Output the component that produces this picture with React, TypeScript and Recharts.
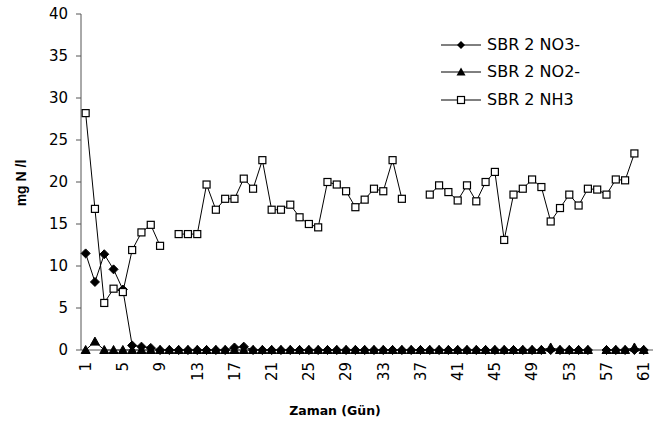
import React from 'react';
import { LineChart, Line, XAxis, YAxis, Label } from 'recharts';

const days = [
  1, 2, 3, 4, 5, 6, 7, 8, 9, 10, 11, 12, 13, 14, 15, 16, 17, 18, 19, 20,
  21, 22, 23, 24, 25, 26, 27, 28, 29, 30, 31, 32, 33, 34, 35, 36, 37, 38, 39, 40,
  41, 42, 43, 44, 45, 46, 47, 48, 49, 50, 51, 52, 53, 54, 55, 56, 57, 58, 59, 60, 61,
];

const no3: (number | null)[] = [
  11.5, 8.1, 11.4, 9.6, 7.2, 0.55, 0.4, 0.25, 0, 0,
  0, 0, 0, 0, 0, 0, 0.3, 0.4, 0, 0,
  0, 0, 0, 0, 0, 0, 0, 0, 0, 0,
  0, 0, 0, 0, 0, 0, 0, 0, 0, 0,
  0, 0, 0, 0, 0, 0, 0, 0, 0, 0,
  0, 0, 0, 0, 0, null, 0, 0, 0, 0, 0,
];

const no2: (number | null)[] = [
  0, 1.0, 0, 0, 0, 0, 0, 0, 0, 0,
  0, 0, 0, 0, 0, 0, 0, 0, 0, 0,
  0, 0, 0, 0, 0, 0, 0, 0, 0, 0,
  0, 0, 0, 0, 0, 0, 0, 0, 0, 0,
  0, 0, 0, 0, 0, 0, 0, 0, 0, 0,
  0.3, 0, 0, 0, 0, null, 0, 0, 0, 0.3, 0,
];

const nh3: (number | null)[] = [
  28.2, 16.8, 5.6, 7.3, 6.9, 11.9, 14.0, 14.9, 12.4, null,
  13.8, 13.8, 13.8, 19.7, 16.7, 18.0, 18.0, 20.4, 19.2, 22.6,
  16.7, 16.7, 17.3, 15.8, 15.0, 14.6, 20.0, 19.7, 18.9, 17.0,
  17.9, 19.2, 18.9, 22.6, 18.0, null, null, 18.5, 19.6, 18.8,
  17.8, 19.6, 17.7, 20.0, 21.2, 13.1, 18.5, 19.2, 20.3, 19.4,
  15.3, 16.9, 18.5, 17.2, 19.2, 19.1, 18.5, 20.3, 20.2, 23.4, null,
];

const xTicks = [1, 5, 9, 13, 17, 21, 25, 29, 33, 37, 41, 45, 49, 53, 57, 61];
const yTicks = [0, 5, 10, 15, 20, 25, 30, 35, 40];

const seriesNames = ['SBR 2 NO3-', 'SBR 2 NO2-', 'SBR 2 NH3'];
const xTitle = 'Zaman (Gün)';
const yTitle = 'mg N /l';

const data = days.map((d, i) => ({ day: d, no3: no3[i], no2: no2[i], nh3: nh3[i] }));

const TICK_FONT = '"DejaVu Sans", sans-serif';

const Diamond = (p: any) => {
  const { cx, cy } = p;
  if (cx == null || cy == null || p.value == null) return <g key={p.key} />;
  const s = 4.5;
  return (
    <polygon
      key={p.key}
      points={`${cx},${cy - s} ${cx + s},${cy} ${cx},${cy + s} ${cx - s},${cy}`}
      fill="#000"
      stroke="#000"
    />
  );
};

const Triangle = (p: any) => {
  const { cx, cy } = p;
  if (cx == null || cy == null || p.value == null) return <g key={p.key} />;
  return (
    <polygon
      key={p.key}
      points={`${cx},${cy - 4.5} ${cx + 4.5},${cy + 3.5} ${cx - 4.5},${cy + 3.5}`}
      fill="#000"
      stroke="#000"
    />
  );
};

const Square = (p: any) => {
  const { cx, cy } = p;
  if (cx == null || cy == null || p.value == null) return <g key={p.key} />;
  return (
    <rect key={p.key} x={cx - 3.5} y={cy - 3.5} width={7} height={7} fill="#fff" stroke="#000" strokeWidth={1.2} />
  );
};

const XTick = (p: any) => {
  const { x, y, payload } = p;
  return (
    <text
      x={x}
      y={y}
      transform={`rotate(-90, ${x}, ${y})`}
      textAnchor="end"
      dy="0.36em"
      fontFamily={TICK_FONT}
      fontSize={15}
      fill="#000"
    >
      {payload.value}
    </text>
  );
};

const YTick = (p: any) => {
  const { x, y, payload } = p;
  return (
    <text x={x} y={y} textAnchor="end" dy="0.36em" fontFamily={TICK_FONT} fontSize={15} fill="#000">
      {payload.value}
    </text>
  );
};

const legendMarkers = [
  (cx: number, cy: number) => (
    <polygon points={`${cx},${cy - 4} ${cx + 4},${cy} ${cx},${cy + 4} ${cx - 4},${cy}`} fill="#000" />
  ),
  (cx: number, cy: number) => (
    <polygon points={`${cx},${cy - 4.5} ${cx + 4.5},${cy + 3.5} ${cx - 4.5},${cy + 3.5}`} fill="#000" />
  ),
  (cx: number, cy: number) => (
    <rect x={cx - 3.5} y={cy - 3.5} width={7} height={7} fill="#fff" stroke="#000" strokeWidth={1.2} />
  ),
];

const ChartLegend = () => (
  <div
    style={{
      position: 'absolute',
      left: 440,
      top: 31,
      fontFamily: TICK_FONT,
      fontSize: 16,
      color: '#000',
    }}
  >
    {seriesNames.map((n, i) => (
      <div key={n} style={{ display: 'flex', alignItems: 'center', height: 27.5 }}>
        <svg width={42} height={16} style={{ display: 'block' }}>
          <line x1={1} y1={8} x2={41} y2={8} stroke="#000" strokeWidth={1} />
          {legendMarkers[i](21, 8)}
        </svg>
        <span style={{ marginLeft: 5, whiteSpace: 'nowrap', lineHeight: '16px' }}>{n}</span>
      </div>
    ))}
  </div>
);

export default function App() {
  return (
    <div style={{ position: 'absolute', left: 0, top: 0, width: 669, height: 424, background: '#fff' }}>
      <LineChart
        width={669}
        height={424}
        data={data}
        margin={{ top: 14, right: 16, left: 21, bottom: 0 }}
      >
        <XAxis
          dataKey="day"
          type="number"
          domain={[0.5, 61.5]}
          ticks={xTicks}
          interval={0}
          allowDecimals={false}
          height={74}
          tickLine={false}
          tickSize={5}
          tickMargin={7}
          stroke="#555"
          tick={<XTick />}
        >
          <Label
            content={() => (
              <text
                x={335}
                y={414.5}
                textAnchor="middle"
                fontFamily='"DejaVu Sans", sans-serif'
                fontWeight="bold"
                fontSize={12.5}
                fill="#000"
              >
                {xTitle}
              </text>
            )}
          />
        </XAxis>
        <YAxis
          type="number"
          domain={[0, 40]}
          ticks={yTicks}
          interval={0}
          width={60}
          tickSize={5}
          tickMargin={8}
          stroke="#555"
          tick={<YTick />}
        >
          <Label
            content={() => (
              <text
                x={21}
                y={183}
                transform="rotate(-90, 21, 183)"
                textAnchor="middle"
                dy="0.36em"
                fontFamily='"Liberation Sans", Arial, sans-serif'
                fontWeight="bold"
                fontSize={14}
                fill="#000"
              >
                {yTitle}
              </text>
            )}
          />
        </YAxis>
        <Line
          type="linear"
          dataKey="no3"
          name={seriesNames[0]}
          stroke="#000"
          strokeWidth={1}
          dot={<Diamond />}
          activeDot={false}
          connectNulls={false}
          isAnimationActive={false}
        />
        <Line
          type="linear"
          dataKey="no2"
          name={seriesNames[1]}
          stroke="#000"
          strokeWidth={1}
          dot={<Triangle />}
          activeDot={false}
          connectNulls={false}
          isAnimationActive={false}
        />
        <Line
          type="linear"
          dataKey="nh3"
          name={seriesNames[2]}
          stroke="#000"
          strokeWidth={1}
          dot={<Square />}
          activeDot={false}
          connectNulls={false}
          isAnimationActive={false}
        />
      </LineChart>
      <ChartLegend />
    </div>
  );
}
